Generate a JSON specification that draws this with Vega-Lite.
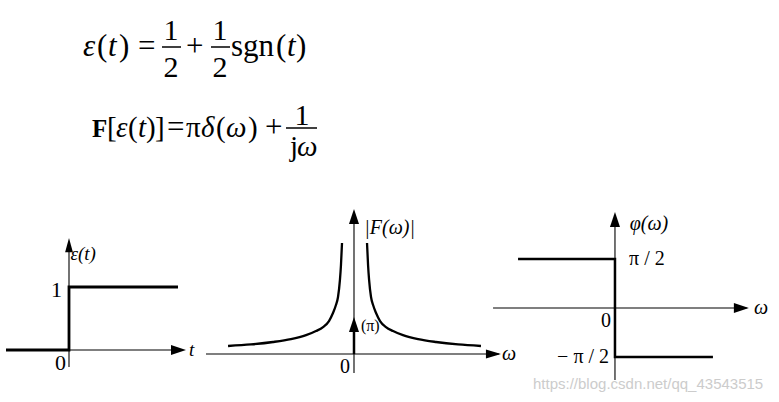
{
"$schema": "https://vega.github.io/schema/vega-lite/v6.json",
"padding": 0,
"spacing": 0,
"bounds": "flush",
"background": "white",
"config": {"view": {"stroke": null}, "text": {"font": "Liberation Serif", "color": "black"}},
"datasets": {
"f1_italic": [{"x":77,"y":56,"text":"ε"},{"x":102,"y":56,"text":"t"},{"x":281,"y":56,"text":"t"}],
"f1_upright": [{"x":91,"y":56,"text":"("},{"x":113,"y":56,"text":")"},{"x":225,"y":56,"text":"sgn"},{"x":270,"y":56,"text":"("},{"x":290,"y":56,"text":")"}],
"f2_italic": [{"x":110,"y":137,"text":"ε"},{"x":132,"y":137,"text":"t"},{"x":195,"y":137,"text":"δ"},{"x":220,"y":137,"text":"ω"},{"x":291,"y":156,"text":"ω"}],
"f2_upright": [{"x":101,"y":137,"text":"["},{"x":122,"y":137,"text":"("},{"x":140,"y":137,"text":")"},{"x":149,"y":137,"text":"]"},{"x":180,"y":137,"text":"π"},{"x":210,"y":137,"text":"("},{"x":242,"y":137,"text":")"},{"x":284,"y":156,"text":"j"}],
"f_bold": [{"x":86,"y":137,"text":"F"}],
"f_ops": [{"x":132,"y":56,"text":"="},{"x":180,"y":56,"text":"+"},{"x":161,"y":137,"text":"="},{"x":259,"y":137,"text":"+"}],
"f_frac": [{"x":165,"y":40,"text":"1"},{"x":165,"y":77,"text":"2"},{"x":214,"y":40,"text":"1"},{"x":214,"y":77,"text":"2"},{"x":296,"y":125,"text":"1"}],
"f_bars": [{"x":156,"x2":175,"y":47},{"x":205,"x2":224,"y":47},{"x":280,"x2":311,"y":128}],
"p1_axes": [{"x":-6.3,"x2":11.3,"y":0,"y2":0},{"x":0,"x2":0,"y":-0.27,"y2":1.6}],
"p1_signal": [{"i":1,"x":-6.3,"y":0},{"i":2,"x":0,"y":0},{"i":3,"x":0,"y":1},{"i":4,"x":10.9,"y":1}],
"p1_arrows": [{"x":0,"y":1.778,"dir":"up"},{"x":11.7,"y":0,"dir":"right"}],
"p1_italic": [{"x":0.15,"y":1.52,"text":"ε(t)"},{"x":12.0,"y":0,"text":"t"}],
"p1_upright": [{"x":-0.7,"y":0.96,"text":"1"},{"x":-0.3,"y":-0.21,"text":"0"}],
"p2_axes": [{"x":-10,"x2":9.8,"y":0,"y2":0},{"x":0,"x2":0,"y":-1.23,"y2":9.2}],
"p2_arrows": [{"x":0,"y":9.42,"dir":"up"},{"x":0,"y":2.4,"dir":"up"},{"x":9.93,"y":0,"dir":"right"}],
"p2_delta": [{"x":0,"x2":0,"y":0,"y2":1.7}],
"p2_curve": [
{"branch":"left","x":-8.51,"y":0.52},{"branch":"left","x":-6.96,"y":0.62},{"branch":"left","x":-5.47,"y":0.78},{"branch":"left","x":-4.26,"y":0.97},{"branch":"left","x":-3.24,"y":1.23},{"branch":"left","x":-2.57,"y":1.49},{"branch":"left","x":-2.09,"y":1.75},{"branch":"left","x":-1.69,"y":2.14},{"branch":"left","x":-1.42,"y":2.66},{"branch":"left","x":-1.22,"y":3.18},{"branch":"left","x":-1.08,"y":3.7},{"branch":"left","x":-0.95,"y":4.81},{"branch":"left","x":-0.88,"y":5.78},{"branch":"left","x":-0.81,"y":7.21},
{"branch":"right","x":0.88,"y":7.21},{"branch":"right","x":0.95,"y":5.78},{"branch":"right","x":1.02,"y":4.81},{"branch":"right","x":1.15,"y":3.7},{"branch":"right","x":1.29,"y":3.18},{"branch":"right","x":1.49,"y":2.66},{"branch":"right","x":1.76,"y":2.14},{"branch":"right","x":2.16,"y":1.75},{"branch":"right","x":2.64,"y":1.49},{"branch":"right","x":3.31,"y":1.23},{"branch":"right","x":4.33,"y":0.97},{"branch":"right","x":5.54,"y":0.78},{"branch":"right","x":7.03,"y":0.62},{"branch":"right","x":8.58,"y":0.52}],
"p2_italic": [{"x":0.7,"y":8.2,"text":"|F(ω)|"},{"x":10.0,"y":0,"text":"ω"}],
"p2_small": [{"x":0.47,"y":1.82,"text":"(π)"}],
"p2_zero": [{"x":-0.6,"y":-0.84,"text":"0"}],
"p3_axes": [{"x":-8.24,"x2":8.9,"y":0,"y2":0},{"x":0,"x2":0,"y":-2.31,"y2":2.9}],
"p3_arrows": [{"x":0,"y":3.08,"dir":"up"},{"x":9.05,"y":0,"dir":"right"}],
"p3_signal": [{"i":1,"x":-6.55,"y":1.5708},{"i":2,"x":0,"y":1.5708},{"i":3,"x":0,"y":-1.5708},{"i":4,"x":6.62,"y":-1.5708}],
"p3_left": [{"x":0.95,"y":1.5708,"text":"π / 2"}],
"p3_right": [{"x":-0.27,"y":-0.42,"text":"0"},{"x":-0.4,"y":-1.5708,"text":"− π / 2"}],
"p3_italic": [{"x":1.0,"y":2.69,"text":"φ(ω)"},{"x":9.4,"y":0,"text":"ω"}],
"p3_mark": [{"x":-5.54,"y":-2.44,"text":"https://blog.csdn.net/qq_43543515"}]
},
"vconcat": [
{
"width": 779, "height": 200,
"encoding": {
"x": {"field":"x","type":"quantitative","scale":{"domain":[0,779],"nice":false,"zero":false},"axis":null},
"y": {"field":"y","type":"quantitative","scale":{"domain":[0,200],"reverse":true,"nice":false,"zero":false},"axis":null}
},
"layer": [
{"data":{"name":"f1_italic"},"mark":{"type":"text","font":"Liberation Serif","fontSize":31,"fontStyle":"italic","align":"left","baseline":"alphabetic"},"encoding":{"text":{"field":"text"}}},
{"data":{"name":"f1_upright"},"mark":{"type":"text","font":"Liberation Serif","fontSize":31,"align":"left","baseline":"alphabetic"},"encoding":{"text":{"field":"text"}}},
{"data":{"name":"f2_italic"},"mark":{"type":"text","font":"Liberation Serif","fontSize":29,"fontStyle":"italic","align":"left","baseline":"alphabetic"},"encoding":{"text":{"field":"text"}}},
{"data":{"name":"f2_upright"},"mark":{"type":"text","font":"Liberation Serif","fontSize":29,"align":"left","baseline":"alphabetic"},"encoding":{"text":{"field":"text"}}},
{"data":{"name":"f_bold"},"mark":{"type":"text","font":"Liberation Serif","fontSize":25,"fontWeight":"bold","align":"left","baseline":"alphabetic"},"encoding":{"text":{"field":"text"}}},
{"data":{"name":"f_ops"},"mark":{"type":"text","font":"Liberation Serif","fontSize":31,"align":"left","baseline":"alphabetic"},"encoding":{"text":{"field":"text"}}},
{"data":{"name":"f_frac"},"mark":{"type":"text","font":"Liberation Serif","fontSize":30,"align":"center","baseline":"alphabetic"},"encoding":{"text":{"field":"text"}}},
{"data":{"name":"f_bars"},"mark":{"type":"rule","color":"black","strokeWidth":1.5},"encoding":{"x2":{"field":"x2"}}}
]
},
{
"hconcat": [
{
"width": 200, "height": 202,
"encoding": {
"x": {"field":"x","type":"quantitative","scale":{"domain":[-6.3,13.7],"nice":false,"zero":false},"axis":null},
"y": {"field":"y","type":"quantitative","scale":{"domain":[-0.825,2.381],"nice":false,"zero":false},"axis":null}
},
"layer": [
{"data":{"name":"p1_axes"},"mark":{"type":"rule","color":"black","strokeWidth":1.1},"encoding":{"x2":{"field":"x2"},"y2":{"field":"y2"}}},
{"data":{"name":"p1_signal"},"mark":{"type":"line","color":"black","strokeWidth":2.8},"encoding":{"order":{"field":"i"}}},
{"data":{"name":"p1_arrows"},"transform":[{"filter":"datum.dir == 'up'"}],"mark":{"type":"point","shape":"M0,0L0.55,2L-0.55,2Z","filled":true,"color":"black","opacity":1,"size":200,"strokeWidth":0}},
{"data":{"name":"p1_arrows"},"transform":[{"filter":"datum.dir == 'right'"}],"mark":{"type":"point","shape":"M0,0L-2,-0.67L-2,0.67Z","filled":true,"color":"black","opacity":1,"size":225,"strokeWidth":0}},
{"data":{"name":"p1_italic"},"mark":{"type":"text","font":"Liberation Serif","fontSize":19,"fontStyle":"italic","align":"left","baseline":"middle"},"encoding":{"text":{"field":"text"}}},
{"data":{"name":"p1_upright"},"mark":{"type":"text","font":"Liberation Serif","fontSize":22,"align":"right","baseline":"middle"},"encoding":{"text":{"field":"text"}}}
]
},
{
"width": 290, "height": 202,
"encoding": {
"x": {"field":"x","type":"quantitative","scale":{"domain":[-10,9.595],"nice":false,"zero":false},"axis":null},
"y": {"field":"y","type":"quantitative","scale":{"domain":[-3.117,10],"nice":false,"zero":false},"axis":null}
},
"layer": [
{"data":{"name":"p2_axes"},"mark":{"type":"rule","color":"black","strokeWidth":1.1},"encoding":{"x2":{"field":"x2"},"y2":{"field":"y2"}}},
{"data":{"name":"p2_delta"},"mark":{"type":"rule","color":"black","strokeWidth":2.5},"encoding":{"x2":{"field":"x2"},"y2":{"field":"y2"}}},
{"data":{"name":"p2_curve"},"mark":{"type":"line","color":"black","strokeWidth":2.3,"interpolate":"monotone"},"encoding":{"detail":{"field":"branch"},"order":{"field":"x"}}},
{"data":{"name":"p2_arrows"},"transform":[{"filter":"datum.dir == 'up'"}],"mark":{"type":"point","shape":"M0,0L0.67,2L-0.67,2Z","filled":true,"color":"black","opacity":1,"size":225,"strokeWidth":0}},
{"data":{"name":"p2_arrows"},"transform":[{"filter":"datum.dir == 'right'"}],"mark":{"type":"point","shape":"M0,0L-2,-0.6L-2,0.6Z","filled":true,"color":"black","opacity":1,"size":225,"strokeWidth":0}},
{"data":{"name":"p2_italic"},"mark":{"type":"text","font":"Liberation Serif","fontSize":20,"fontStyle":"italic","align":"left","baseline":"middle"},"encoding":{"text":{"field":"text"}}},
{"data":{"name":"p2_small"},"mark":{"type":"text","font":"Liberation Serif","fontSize":16,"align":"left","baseline":"middle"},"encoding":{"text":{"field":"text"}}},
{"data":{"name":"p2_zero"},"mark":{"type":"text","font":"Liberation Serif","fontSize":20,"align":"center","baseline":"middle"},"encoding":{"text":{"field":"text"}}}
]
},
{
"width": 289, "height": 202,
"encoding": {
"x": {"field":"x","type":"quantitative","scale":{"domain":[-8.04,11.49],"nice":false,"zero":false},"axis":null},
"y": {"field":"y","type":"quantitative","scale":{"domain":[-3.013,3.462],"nice":false,"zero":false},"axis":null}
},
"layer": [
{"data":{"name":"p3_axes"},"mark":{"type":"rule","color":"black","strokeWidth":1.1},"encoding":{"x2":{"field":"x2"},"y2":{"field":"y2"}}},
{"data":{"name":"p3_signal"},"mark":{"type":"line","color":"black","strokeWidth":2.5},"encoding":{"order":{"field":"i"}}},
{"data":{"name":"p3_arrows"},"transform":[{"filter":"datum.dir == 'up'"}],"mark":{"type":"point","shape":"M0,0L0.67,2L-0.67,2Z","filled":true,"color":"black","opacity":1,"size":225,"strokeWidth":0}},
{"data":{"name":"p3_arrows"},"transform":[{"filter":"datum.dir == 'right'"}],"mark":{"type":"point","shape":"M0,0L-2,-0.67L-2,0.67Z","filled":true,"color":"black","opacity":1,"size":225,"strokeWidth":0}},
{"data":{"name":"p3_left"},"mark":{"type":"text","font":"Liberation Serif","fontSize":20,"align":"left","baseline":"middle"},"encoding":{"text":{"field":"text"}}},
{"data":{"name":"p3_right"},"mark":{"type":"text","font":"Liberation Serif","fontSize":20,"align":"right","baseline":"middle"},"encoding":{"text":{"field":"text"}}},
{"data":{"name":"p3_italic"},"mark":{"type":"text","font":"Liberation Serif","fontSize":20,"fontStyle":"italic","align":"left","baseline":"middle"},"encoding":{"text":{"field":"text"}}},
{"data":{"name":"p3_mark"},"mark":{"type":"text","font":"Liberation Sans","fontSize":15,"color":"#cccccc","align":"left","baseline":"middle"},"encoding":{"text":{"field":"text"}}}
]
}
],
"spacing": 0,
"bounds": "flush"
}
]
}
